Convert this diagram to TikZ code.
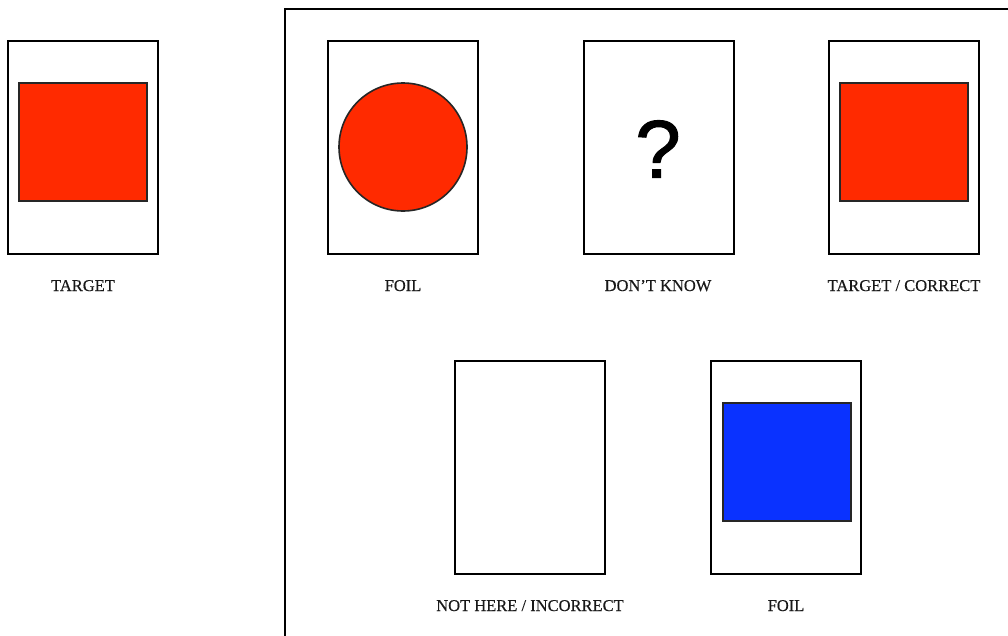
\documentclass[tikz,border=0pt]{standalone}
\usepackage{fontspec}
\setmainfont{Liberation Serif}[FakeBold=0.3]
\newfontfamily\qfont{Liberation Sans}[FakeBold=1.2]
\definecolor{cardred}{HTML}{FF2A00}
\definecolor{cardblue}{HTML}{0A32FF}
\tikzset{
  card/.style={draw=black, line width=2pt, fill=white, minimum width=150pt, minimum height=213pt, inner sep=0pt, outer sep=0pt},
  sq/.style={draw=black!85, line width=2pt, minimum width=128pt, minimum height=118pt, inner sep=0pt},
  redsq/.style={sq, fill=cardred},
  bluesq/.style={sq, fill=cardblue},
  redcirc/.style={circle, draw=black!85, line width=1.6pt, fill=cardred, minimum size=128pt, inner sep=0pt},
  lbl/.style={font=\fontsize{16.5}{18}\selectfont, text=black!90, inner sep=0pt, anchor=base}
}
\begin{document}
\begin{tikzpicture}[x=1pt,y=-1pt]
\useasboundingbox (0,0) rectangle (1008,635);
\fill[white] (0,0) rectangle (1008,635);
% frame
\draw[line width=2pt] (285,9) rectangle (1020,650);
% target card
\node[card] (c0) at (83,147.5) {};
\node[redsq] (s0) at (83,142) {};
\node[lbl] (l0) at (83,291) {TARGET};
% foil circle
\node[card] (c1) at (403,147.5) {};
\node[redcirc] (s1) at (403,147) {};
\node[lbl] (l1) at (403,291) {FOIL};
% don't know
\node[card] (c2) at (658.5,147.5) {};
\node[font=\qfont\fontsize{82}{82}\selectfont, inner sep=0pt] (q) at (658,149) {?};
\node[lbl] (l2) at (658,291) {DON’T KNOW};
% target / correct
\node[card] (c3) at (903.5,147.5) {};
\node[redsq] (s3) at (903.5,142) {};
\node[lbl] (l3) at (904,291) {TARGET / CORRECT};
% not here
\node[card] (c4) at (530,467) {};
\node[lbl] (l4) at (530,611) {NOT HERE / INCORRECT};
% foil blue
\node[card] (c5) at (786,467) {};
\node[bluesq] (s5) at (786.5,461.5) {};
\node[lbl] (l5) at (786,611) {FOIL};
\end{tikzpicture}
\end{document}
